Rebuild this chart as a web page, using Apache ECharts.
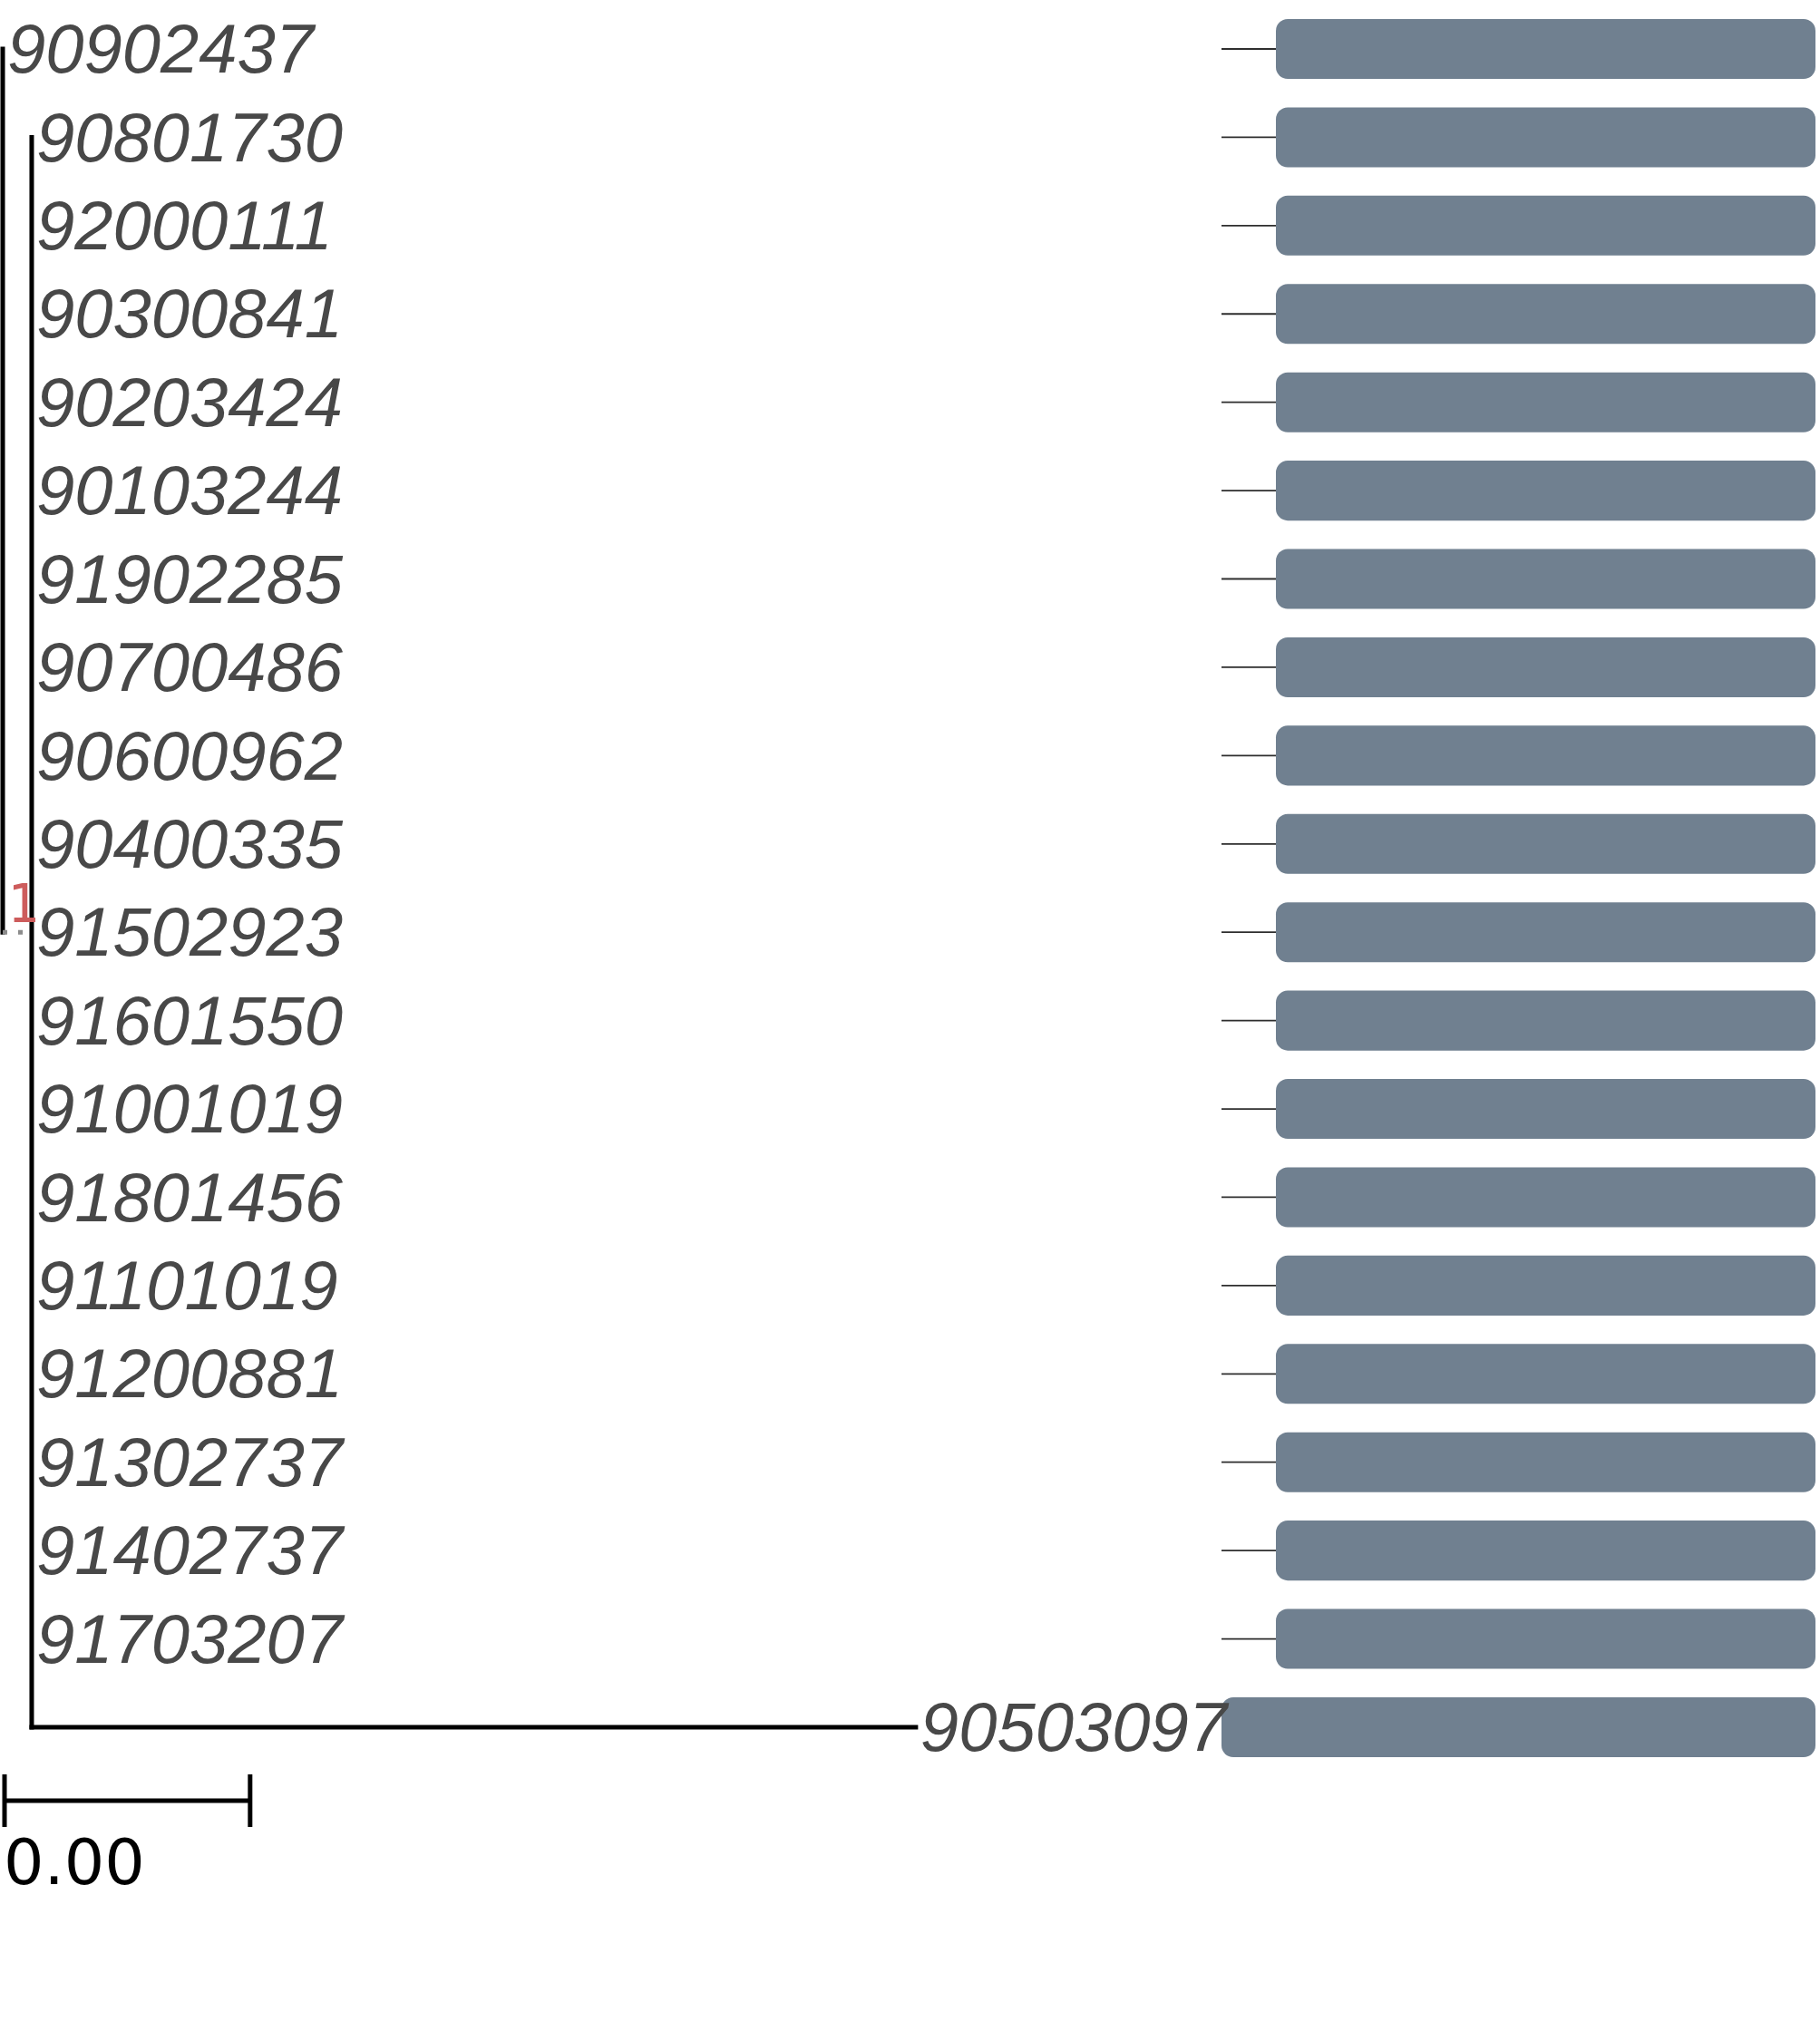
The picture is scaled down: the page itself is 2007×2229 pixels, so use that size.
<!DOCTYPE html>
<html>
<head>
<meta charset="utf-8">
<style>
html,body{margin:0;padding:0;background:#ffffff;}
#chart{width:2007px;height:2229px;}
</style>
<script src="https://cdn.jsdelivr.net/npm/echarts@6/dist/echarts.min.js"></script>
</head>
<body>
<div id="chart"></div>
<script>
// ---- data ----
const tipLabels = ['90902437','90801730','92000111','90300841','90203424','90103244','91902285','90700486','90600962','90400335','91502923','91601550','91001019','91801456','91101019','91200881','91302737','91402737','91703207','90503097'];
// parent node of each tip (0 = root, 1 = inner clade)
const tipParent = [0,1,1,1,1,1,1,1,1,1,1,1,1,1,1,1,1,1,1,1];
const tipBranchLength = [0,0,0,0,0,0,0,0,0,0,0,0,0,0,0,0,0,0,0,0.0036];
const nodeParent = [-1, 0];
const nodeBranchLength = [0, 0.000118];
const nodeSupport = ['', '1'];
// bar panel (0-100 scale)
const barStart = [9.16,9.16,9.16,9.16,9.16,9.16,9.16,9.16,9.16,9.16,9.16,9.16,9.16,9.16,9.16,9.16,9.16,9.16,9.16,0];
const barEnd = [100,100,100,100,100,100,100,100,100,100,100,100,100,100,100,100,100,100,100,100];
const scaleBarLength = 0.001;
const scaleBarLabel = '0.00';

// ---- tree layout ----
const nTips = tipLabels.length;
const nNodes = nodeParent.length;
const nodeX = new Array(nNodes).fill(0);
for (let k = 0; k < nNodes; k++) {
  nodeX[k] = nodeParent[k] < 0 ? 0 : nodeX[nodeParent[k]] + nodeBranchLength[k];
}
const tipX = tipLabels.map((_, i) => nodeX[tipParent[i]] + tipBranchLength[i]);
const nodeY = new Array(nNodes).fill(0), nodeMin = new Array(nNodes).fill(0), nodeMax = new Array(nNodes).fill(0);
for (let k = nNodes - 1; k >= 0; k--) {
  const ys = [];
  tipParent.forEach((p, i) => { if (p === k) ys.push(i); });
  nodeParent.forEach((p, j) => { if (p === k) ys.push(nodeY[j]); });
  nodeY[k] = ys.reduce((a, b) => a + b, 0) / ys.length;
  nodeMin[k] = Math.min(...ys);
  nodeMax[k] = Math.max(...ys);
}
const segments = [];
for (let i = 0; i < nTips; i++) {
  const px = nodeX[tipParent[i]];
  if (tipX[i] > px) segments.push([px, i, tipX[i], i, 0]);
}
for (let k = 0; k < nNodes; k++) {
  segments.push([nodeX[k], nodeMin[k], nodeX[k], nodeMax[k], 0]);
  if (nodeParent[k] >= 0) segments.push([nodeX[nodeParent[k]], nodeY[k], nodeX[k], nodeY[k], 1]);
}
const labelData = tipLabels.map((t, i) => [tipX[i], i, i]);
const supportData = [];
for (let k = 0; k < nNodes; k++) if (nodeSupport[k] !== '') supportData.push([nodeX[k], nodeY[k], k]);
const barData = tipLabels.map((t, i) => [barStart[i], barEnd[i], i]);

const rowTop = 54 - 48.71, rowBand = 97.42;
const gridCommon = {top: rowTop, height: rowBand * nTips, outerBoundsMode: 'none', containLabel: false};

const chart = echarts.init(document.getElementById('chart'));
chart.setOption({
  animation: false,
  backgroundColor: '#ffffff',
  grid: [
    Object.assign({left: 3, width: 2004}, gridCommon),
    Object.assign({left: 1347, width: 655}, gridCommon)
  ],
  xAxis: [
    {type: 'value', gridIndex: 0, min: 0, max: 0.0074, show: false},
    {type: 'value', gridIndex: 1, min: 0, max: 100, show: false}
  ],
  yAxis: [
    {type: 'value', gridIndex: 0, min: -0.5, max: nTips - 0.5, inverse: true, show: false},
    {type: 'value', gridIndex: 1, min: -0.5, max: nTips - 0.5, inverse: true, show: false}
  ],
  series: [
    {
      type: 'custom', xAxisIndex: 1, yAxisIndex: 1, data: barData, silent: true,
      renderItem: function (params, api) {
        const i = api.value(2);
        const p0 = api.coord([api.value(0), i]);
        const p1 = api.coord([api.value(1), i]);
        const h = api.size([0, 0.678])[1];
        const items = [{
          type: 'rect',
          shape: {x: p0[0], y: p0[1] - h / 2, width: p1[0] - p0[0], height: h, r: 13},
          style: {fill: '#708090'}
        }];
        if (api.value(0) > 0) {
          const c0 = api.coord([0, i]);
          items.push({type: 'line', shape: {x1: c0[0], y1: c0[1], x2: p0[0], y2: c0[1]},
            style: {stroke: '#2e2e2e', lineWidth: 1.8}});
        }
        return {type: 'group', children: items};
      }
    },
    {
      type: 'custom', xAxisIndex: 0, yAxisIndex: 0, data: segments, silent: true,
      renderItem: function (params, api) {
        const a = api.coord([api.value(0), api.value(1)]);
        const b = api.coord([api.value(2), api.value(3)]);
        const dotted = api.value(4) === 1;
        return {
          type: 'line',
          shape: {x1: a[0], y1: a[1], x2: b[0], y2: b[1]},
          style: dotted
            ? {stroke: '#8c8c8c', lineWidth: 5, lineDash: [5, 12], lineCap: 'butt'}
            : {stroke: '#000000', lineWidth: 5, lineCap: 'square'}
        };
      }
    },
    {
      type: 'custom', xAxisIndex: 0, yAxisIndex: 0, data: labelData, silent: true,
      renderItem: function (params, api) {
        const p = api.coord([api.value(0), api.value(1)]);
        return {
          type: 'text',
          x: p[0] + 5, y: p[1] + 5,
          style: {text: tipLabels[api.value(2)], fill: '#484848',
            font: 'italic 76px "Liberation Sans", Arial, sans-serif',
            align: 'left', verticalAlign: 'middle'}
        };
      }
    },
    {
      type: 'custom', xAxisIndex: 0, yAxisIndex: 0, data: supportData, silent: true,
      renderItem: function (params, api) {
        const p = api.coord([api.value(0), api.value(1)]);
        return {
          type: 'text',
          x: p[0] + 8, y: p[1] - 26,
          style: {text: nodeSupport[api.value(2)], fill: '#cd5c5c',
            font: '58px "DejaVu Sans Mono", monospace',
            align: 'right', verticalAlign: 'middle'}
        };
      }
    },
    {
      type: 'custom', xAxisIndex: 0, yAxisIndex: 0, data: [[0, scaleBarLength]], silent: true,
      renderItem: function (params, api) {
        const a = api.coord([api.value(0), nTips - 1]);
        const b = api.coord([api.value(1), nTips - 1]);
        const y = a[1] + 81;
        const st = {stroke: '#000000', lineWidth: 5, lineCap: 'butt'};
        return {type: 'group', children: [
          {type: 'line', shape: {x1: a[0] + 2, y1: y, x2: b[0] + 2, y2: y}, style: st},
          {type: 'line', shape: {x1: a[0] + 2, y1: y - 29, x2: a[0] + 2, y2: y + 29}, style: st},
          {type: 'line', shape: {x1: b[0] + 2, y1: y - 29, x2: b[0] + 2, y2: y + 29}, style: st},
          {type: 'text', x: a[0] + 1, y: y + 74,
            style: {text: scaleBarLabel, fill: '#000000', font: '70px "DejaVu Sans", sans-serif',
              align: 'left', verticalAlign: 'middle'}}
        ]};
      }
    }
  ]
});
</script>
</body>
</html>
